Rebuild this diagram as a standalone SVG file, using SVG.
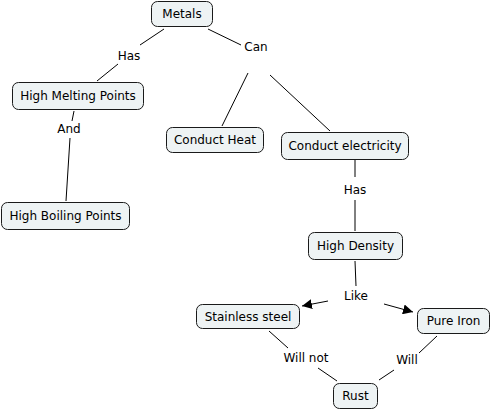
<svg xmlns="http://www.w3.org/2000/svg" width="492" height="409" viewBox="0 0 492 409">
<defs>
<style>
.n rect{fill:#eef3f4;stroke:#1a1a1a;stroke-width:1}
text{font-family:"DejaVu Sans",Verdana,sans-serif;font-size:12px;fill:#000;text-anchor:middle}
.c line{stroke:#000;stroke-width:1}
</style>
<marker id="ah" viewBox="0 0 10 10" refX="10" refY="5" markerWidth="10" markerHeight="10" markerUnits="userSpaceOnUse" orient="auto">
<path d="M0,0 L10,5 L0,10 z" fill="#000"/>
</marker>
</defs>
<rect width="492" height="409" fill="#fff"/>
<g class="c">
<line x1="164" y1="29" x2="140" y2="45"/>
<line x1="118" y1="64" x2="97" y2="81"/>
<line x1="208" y1="29" x2="241" y2="45"/>
<line x1="248" y1="73" x2="222" y2="126"/>
<line x1="270" y1="75" x2="330" y2="131"/>
<line x1="74" y1="111" x2="72" y2="121"/>
<line x1="70" y1="138" x2="66" y2="201"/>
<line x1="355" y1="160" x2="355" y2="177"/>
<line x1="355" y1="200" x2="355" y2="231"/>
<line x1="355" y1="261" x2="356" y2="286"/>
<line x1="328" y1="301" x2="302" y2="306" marker-end="url(#ah)"/>
<line x1="384" y1="304" x2="413" y2="312" marker-end="url(#ah)"/>
<line x1="269" y1="331" x2="288" y2="348"/>
<line x1="318" y1="368" x2="337" y2="381"/>
<line x1="437" y1="336" x2="419" y2="353"/>
<line x1="394" y1="370" x2="379" y2="380"/>
<text x="129" y="60">Has</text>
<text x="256" y="51">Can</text>
<text x="69" y="133">And</text>
<text x="355" y="194">Has</text>
<text x="356" y="300">Like</text>
<text x="306" y="362">Will not</text>
<text x="407" y="364">Will</text>
</g>
<g id="metals" class="n"><rect x="151.5" y="1.5" width="61" height="25" rx="6"/><text x="182" y="18">Metals</text></g>
<g id="hmp" class="n"><rect x="12.5" y="82.5" width="131" height="27" rx="6"/><text x="78" y="100">High Melting Points</text></g>
<g id="hbp" class="n"><rect x="1.5" y="202.5" width="128" height="27" rx="6"/><text x="65.5" y="220">High Boiling Points</text></g>
<g id="heat" class="n"><rect x="166.5" y="127.5" width="97" height="25" rx="6"/><text x="215" y="144">Conduct Heat</text></g>
<g id="elec" class="n"><rect x="281.5" y="132.5" width="127" height="27" rx="6"/><text x="345" y="150">Conduct electricity</text></g>
<g id="density" class="n"><rect x="308.5" y="232.5" width="94" height="27" rx="6"/><text x="355.5" y="250">High Density</text></g>
<g id="stainless" class="n"><rect x="196.5" y="304.5" width="103" height="24" rx="6"/><text x="248" y="321">Stainless steel</text></g>
<g id="iron" class="n"><rect x="417.5" y="308.5" width="72" height="25" rx="6"/><text x="453.5" y="325">Pure Iron</text></g>
<g id="rust" class="n"><rect x="333.5" y="383.5" width="44" height="25" rx="6"/><text x="355.5" y="400">Rust</text></g>
</svg>
